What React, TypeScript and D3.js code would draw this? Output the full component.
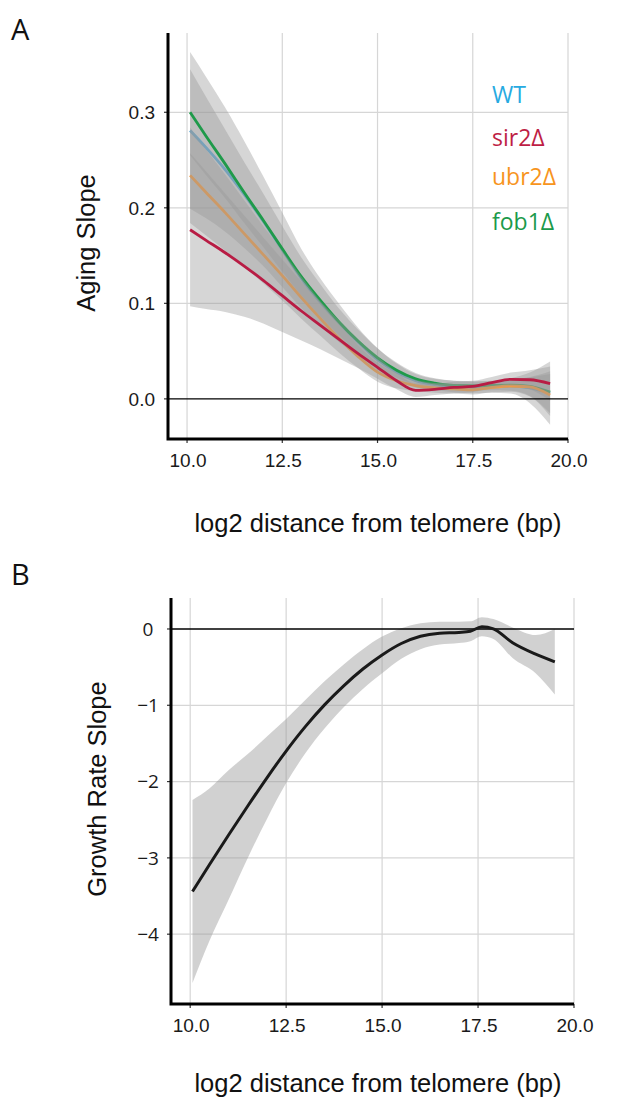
import { useEffect, useRef } from 'react';
import * as d3 from 'd3';

// Panel A: aging slope vs log2 distance from telomere
const xsA = [10.08, 10.5, 11, 11.5, 12, 12.5, 13, 13.5, 14, 14.5, 15, 15.5, 16, 16.5, 17, 17.5, 18, 18.5, 19, 19.53];
const wtFit = [0.281, 0.263, 0.240, 0.214, 0.186, 0.156, 0.126, 0.101, 0.079, 0.059, 0.041, 0.028, 0.019, 0.015, 0.013, 0.012, 0.0125, 0.0135, 0.0115, 0.006];
const wtSe = [0.082, 0.074, 0.065, 0.056, 0.047, 0.039, 0.031, 0.025, 0.020, 0.015, 0.012, 0.009, 0.007, 0.006, 0.006, 0.006, 0.006, 0.008, 0.016, 0.033];
const sir2Fit = [0.177, 0.166, 0.153, 0.139, 0.124, 0.108, 0.092, 0.077, 0.062, 0.047, 0.033, 0.019, 0.009, 0.010, 0.012, 0.013, 0.017, 0.0205, 0.020, 0.016];
const sir2Se = [0.080, 0.072, 0.062, 0.053, 0.045, 0.038, 0.031, 0.025, 0.020, 0.015, 0.012, 0.009, 0.007, 0.006, 0.006, 0.006, 0.006, 0.007, 0.010, 0.018];
const ubr2Fit = [0.234, 0.216, 0.195, 0.173, 0.151, 0.129, 0.106, 0.084, 0.063, 0.044, 0.028, 0.019, 0.014, 0.0115, 0.0105, 0.0095, 0.012, 0.0135, 0.0125, 0.004];
const ubr2Se = [0.050, 0.045, 0.040, 0.035, 0.030, 0.026, 0.022, 0.018, 0.015, 0.012, 0.010, 0.008, 0.006, 0.005, 0.005, 0.005, 0.005, 0.006, 0.010, 0.022];
const fob1Fit = [0.300, 0.275, 0.246, 0.216, 0.187, 0.157, 0.128, 0.103, 0.080, 0.060, 0.043, 0.030, 0.021, 0.0165, 0.014, 0.0135, 0.014, 0.0145, 0.013, 0.007];
const fob1Se = [0.045, 0.041, 0.036, 0.032, 0.028, 0.024, 0.020, 0.017, 0.014, 0.012, 0.010, 0.008, 0.006, 0.005, 0.005, 0.005, 0.005, 0.006, 0.010, 0.022];

// Panel B: growth rate slope
const xsB = [10.06, 10.5, 11, 11.5, 12, 12.5, 13, 13.5, 14, 14.5, 15, 15.5, 16, 16.5, 17, 17.3, 17.6, 17.9, 18.4, 19, 19.5];
const growthFit = [-3.44, -3.09, -2.70, -2.32, -1.95, -1.60, -1.28, -0.995, -0.745, -0.525, -0.34, -0.19, -0.095, -0.055, -0.045, -0.03, 0.03, 0.0, -0.18, -0.33, -0.43];
const growthSe = [1.2, 1.0, 0.85, 0.68, 0.54, 0.42, 0.35, 0.31, 0.28, 0.26, 0.24, 0.2, 0.17, 0.15, 0.14, 0.13, 0.125, 0.13, 0.2, 0.25, 0.43];

const xTicks = [10, 12.5, 15, 17.5, 20];
const yTicksA = [0, 0.1, 0.2, 0.3];
const yTicksB = [0, -1, -2, -3, -4];

// drawn in this order so sir2 ends up on top, like the figure
const seriesA = [
  { name: 'WT', fit: wtFit, se: wtSe, line: '#5fa8d3', label: '#27aae1' },
  { name: 'fob1Δ', fit: fob1Fit, se: fob1Se, line: '#1f9a4a', label: '#1b9a4b' },
  { name: 'ubr2Δ', fit: ubr2Fit, se: ubr2Se, line: '#ef9a45', label: '#f7941d' },
  { name: 'sir2Δ', fit: sir2Fit, se: sir2Se, line: '#b81c44', label: '#be1e45' },
];
const legendOrder = ['WT', 'sir2Δ', 'ubr2Δ', 'fob1Δ'];

const SANS = '"Liberation Sans", Arial, Helvetica, sans-serif';
const MYRIAD = '"Open Sans", "Noto Sans", sans-serif';
const GRID = '#d6d6d6';
const BAND = '#999999';

type Sel = d3.Selection<SVGGElement, unknown, null, undefined>;

function frame(g: Sel, x: d3.ScaleLinear<number, number>, y: d3.ScaleLinear<number, number>, yTicks: number[]) {
  const [x0, x1] = [x.range()[0], x(20)];
  const [yb, yt] = y.range();

  g.selectAll('.vgrid').data(xTicks).enter().append('line')
    .attr('x1', d => x(d)).attr('x2', d => x(d))
    .attr('y1', yt).attr('y2', yb)
    .attr('stroke', GRID).attr('stroke-width', 1.2);

  g.selectAll('.hgrid').data(yTicks.filter(d => d !== 0)).enter().append('line')
    .attr('x1', x0).attr('x2', x1)
    .attr('y1', d => y(d)).attr('y2', d => y(d))
    .attr('stroke', GRID).attr('stroke-width', 1.2);

  return { x0, x1, yb, yt };
}

export default function App() {
  const svgRef = useRef<SVGSVGElement>(null);

  useEffect(() => {
    if (!svgRef.current) return;
    const svg = d3.select(svgRef.current);
    svg.selectAll('*').remove();

    const curve = d3.curveMonotoneX;

    // ---------- Panel A ----------
    const xA = d3.scaleLinear().domain([9.5, 20]).range([168, 568]);
    const yA = d3.scaleLinear().domain([-0.042, 0.383]).range([439, 33]);
    const gA = svg.append('g') as unknown as Sel;
    const fA = frame(gA, xA, yA, yTicksA);

    seriesA.forEach(s => {
      const pts = xsA.map((v, i) => ({ x: v, f: s.fit[i], se: s.se[i] }));
      const area = d3.area<typeof pts[0]>()
        .x(d => xA(d.x)).y0(d => yA(d.f - d.se)).y1(d => yA(d.f + d.se)).curve(curve);
      const line = d3.line<typeof pts[0]>().x(d => xA(d.x)).y(d => yA(d.f)).curve(curve);
      gA.append('path').attr('d', area(pts)).attr('fill', BAND).attr('fill-opacity', 0.4);
      gA.append('path').attr('d', line(pts)).attr('fill', 'none')
        .attr('stroke', s.line).attr('stroke-width', 2.8);
    });

    gA.append('line')
      .attr('x1', fA.x0).attr('x2', fA.x1).attr('y1', yA(0)).attr('y2', yA(0))
      .attr('stroke', '#000').attr('stroke-width', 1.3);

    // legend
    const legendY = [103, 146, 185, 230];
    legendOrder.forEach((name, i) => {
      const s = seriesA.find(d => d.name === name)!;
      gA.append('text')
        .attr('x', 492).attr('y', legendY[i])
        .attr('font-family', MYRIAD).attr('font-size', 23)
        .attr('fill', s.label).text(name);
    });

    // ---------- Panel B ----------
    const xB = d3.scaleLinear().domain([9.5, 20]).range([171, 574]);
    const yB = d3.scaleLinear().domain([-4.915, 0.406]).range([1004, 598]);
    const gB = svg.append('g') as unknown as Sel;
    const fB = frame(gB, xB, yB, yTicksB);

    const ptsB = xsB.map((v, i) => ({ x: v, f: growthFit[i], se: growthSe[i] }));
    gB.append('path')
      .attr('d', d3.area<typeof ptsB[0]>()
        .x(d => xB(d.x)).y0(d => yB(d.f - d.se)).y1(d => yB(d.f + d.se)).curve(curve)(ptsB))
      .attr('fill', BAND).attr('fill-opacity', 0.45);

    gB.append('line')
      .attr('x1', fB.x0).attr('x2', fB.x1).attr('y1', yB(0)).attr('y2', yB(0))
      .attr('stroke', '#000').attr('stroke-width', 1.3);

    gB.append('path')
      .attr('d', d3.line<typeof ptsB[0]>().x(d => xB(d.x)).y(d => yB(d.f)).curve(curve)(ptsB))
      .attr('fill', 'none').attr('stroke', '#1a1a1a').attr('stroke-width', 3);

    // ---------- axes ----------
    const axes = [
      { g: gA, f: fA, x: xA, y: yA, yTicks: yTicksA, fmt: d3.format('.1f'), anchor: 'end', lx: 155,
        yFont: SANS, title: 'Aging Slope', titleX: 95, titleY: 243, xTitleY: 532, letter: 'A', letterY: 40 },
      { g: gB, f: fB, x: xB, y: yB, yTicks: yTicksB, fmt: (d: number) => (d < 0 ? '−' + Math.abs(d) : String(d)),
        anchor: 'middle', lx: 148, yFont: MYRIAD, title: 'Growth Rate Slope', titleX: 106, titleY: 789,
        xTitleY: 1092, letter: 'B', letterY: 585 },
    ];

    axes.forEach(a => {
      const { g, f, x, y } = a;
      // tick marks
      g.selectAll('.yt').data(a.yTicks).enter().append('line')
        .attr('x1', f.x0 - 4).attr('x2', f.x0).attr('y1', d => y(d)).attr('y2', d => y(d))
        .attr('stroke', '#333').attr('stroke-width', 1.2);
      g.selectAll('.xt').data(xTicks).enter().append('line')
        .attr('x1', d => x(d)).attr('x2', d => x(d)).attr('y1', f.yb).attr('y2', f.yb + 4)
        .attr('stroke', '#333').attr('stroke-width', 1.2);

      g.append('path')
        .attr('d', `M${f.x0},${f.yt}V${f.yb}H${f.x1}`)
        .attr('fill', 'none').attr('stroke', '#000').attr('stroke-width', 3);

      g.selectAll('.yl').data(a.yTicks).enter().append('text')
        .attr('x', a.lx).attr('y', d => y(d)).attr('dy', '0.36em')
        .attr('text-anchor', a.anchor)
        .attr('font-family', a.yFont).attr('font-size', 19)
        .attr('fill', '#1a1a1a')
        .text(d => a.fmt(d));

      g.selectAll('.xl').data(xTicks).enter().append('text')
        .attr('x', d => x(d) + 1).attr('y', f.yb + 28)
        .attr('text-anchor', 'middle')
        .attr('font-family', SANS).attr('font-size', 19)
        .attr('fill', '#1a1a1a')
        .text(d => d3.format('.1f')(d));

      g.append('text')
        .attr('x', 378).attr('y', a.xTitleY)
        .attr('text-anchor', 'middle')
        .attr('font-family', SANS).attr('font-size', 25.5)
        .attr('fill', '#111')
        .text('log2 distance from telomere (bp)');

      g.append('text')
        .attr('transform', `translate(${a.titleX},${a.titleY}) rotate(-90)`)
        .attr('text-anchor', 'middle')
        .attr('font-family', SANS).attr('font-size', 25.5)
        .attr('fill', '#111')
        .text(a.title);

      g.append('text')
        .attr('x', 11).attr('y', a.letterY)
        .attr('font-family', MYRIAD).attr('font-size', 29)
        .attr('fill', '#111')
        .text(a.letter);
    });
  }, []);

  return (
    <svg
      ref={svgRef}
      width={617}
      height={1120}
      style={{ position: 'absolute', left: 0, top: 0, background: '#fff' }}
    />
  );
}
